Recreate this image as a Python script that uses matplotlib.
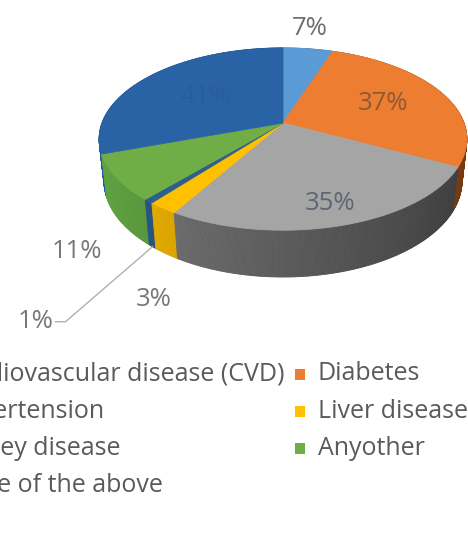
import matplotlib
matplotlib.use('Agg')
import matplotlib.pyplot as plt
from matplotlib.patches import Polygon, Rectangle
import numpy as np

plt.rcParams['font.family'] = ['Open Sans', 'DejaVu Sans']

#%% Survey answers, one slice each (% of respondents)

categories = ['Cardiovascular disease (CVD)', 'Diabetes', 'Hypertension',
              'Liver disease', 'Kidney disease', 'Anyother', 'None of the above']
values = [7, 37, 35, 3, 1, 11, 41]

top_colors = ['#5B9BD5', '#ED7D31', '#A5A5A5', '#FFC000', '#2E5F8C', '#70AD47', '#2A62A6']
side_colors = ['#4A86C0', '#C8631F', '#6A6A6A', '#D9A300', '#24507A', '#55913A', '#1F4F88']
label_colors = ['#6e6e6e', '#8f5a33', '#5e6575', '#787878', '#787878', '#787878', '#2a5d9e']

# label placement: ('in', radius) on the top face, or offsets from a rim point
label_place = [('top', 2, -20), ('in', 0.62), ('in', 0.82), ('out', -12, 46),
               ('lead', -97, 75), ('out', -44, 29), ('in', 0.55)]

#%% Projection of the 3D disc

cx, cy = 283, 123
f = 181
tilt = np.radians(29.2)
dist = 4.95
h = 0.27


def project(theta, r=1.0, z=0.0):
    X = r * np.cos(theta)
    Y = r * np.sin(theta)
    w = dist + Y * np.cos(tilt) - z * np.sin(tilt)
    sx = cx + f * dist * X / w
    sy = cy - f * dist * (Y * np.sin(tilt) + z * np.cos(tilt)) / w
    return sx, sy


def shade(color, theta):
    rgb = np.array(matplotlib.colors.to_rgb(color))
    k = np.clip(1 - 0.4 * (np.cos(theta) + 0.5) / 1.4, 0.55, 1.12)
    return tuple(np.clip(rgb * k, 0, 1))


fig = plt.figure(figsize=(4.68, 5.59), dpi=100)
ax = fig.add_axes([0, 0, 1, 1])
ax.set_xlim(0, 468)
ax.set_ylim(559, 0)
ax.axis('off')

total = float(sum(values))
bounds = 90 - np.cumsum([0] + values) / total * 360
starts = np.radians(bounds[:-1])
ends = np.radians(bounds[1:])

#%% Side wall, far pieces first

walls = []
for i in range(len(values)):
    steps = max(2, int(abs(np.degrees(ends[i] - starts[i])) / 0.5))
    ts = np.linspace(starts[i], ends[i], steps + 1)
    for t0, t1 in zip(ts[:-1], ts[1:]):
        tm = 0.5 * (t0 + t1)
        quad = [project(t0), project(t1), project(t1, z=-h), project(t0, z=-h)]
        walls.append((np.sin(tm), quad, shade(side_colors[i], tm)))

for _, quad, col in sorted(walls, key=lambda s: -s[0]):
    ax.add_patch(Polygon(quad, closed=True, facecolor=col, edgecolor=col, lw=0.6))

#%% Top face

for i in range(len(values)):
    ts = np.linspace(starts[i], ends[i], 120)
    pts = [project(0, 0)] + [project(t) for t in ts]
    ax.add_patch(Polygon(pts, closed=True, facecolor=top_colors[i],
                         edgecolor=top_colors[i], lw=0.6))

#%% Data labels

lab_size = 18.5
for i, v in enumerate(values):
    mid = 0.5 * (starts[i] + ends[i])
    place = label_place[i]
    txt = f'{v}%'
    if place[0] == 'in':
        x, y = project(mid, place[1])
        ax.text(x, y, txt, ha='center', va='center', fontsize=lab_size, color=label_colors[i])
    elif place[0] == 'top':
        x, y = project(mid)
        ax.text(x + place[1], y + place[2], txt, ha='center', va='center',
                fontsize=lab_size, color=label_colors[i])
    elif place[0] == 'out':
        x, y = project(mid, z=-h)
        ax.text(x + place[1], y + place[2], txt, ha='center', va='center',
                fontsize=lab_size, color=label_colors[i])
    else:
        x, y = project(mid, z=-h)
        ex, ey = x + place[1] + 10, y + place[2]
        ax.plot([x, ex, ex - 10], [y, ey, ey], color='#b0b0b0', lw=1.0)
        ax.text(ex - 12, ey, txt, ha='right', va='center', fontsize=lab_size,
                color=label_colors[i])

#%% Legend in two columns, left column runs off the canvas

col_x = [-52, 318]
row_y0, row_dy = 374, 37.3
for i, name in enumerate(categories):
    col, row = i % 2, i // 2
    y = row_y0 + row * row_dy
    ax.add_patch(Rectangle((col_x[col] - 23, y - 5.5), 10, 11, facecolor=top_colors[i],
                           edgecolor='none'))
    ax.text(col_x[col], y, name, ha='left', va='center', fontsize=18, color='#5a5a5a')

plt.savefig('out.png', dpi=100)
plt.close()
